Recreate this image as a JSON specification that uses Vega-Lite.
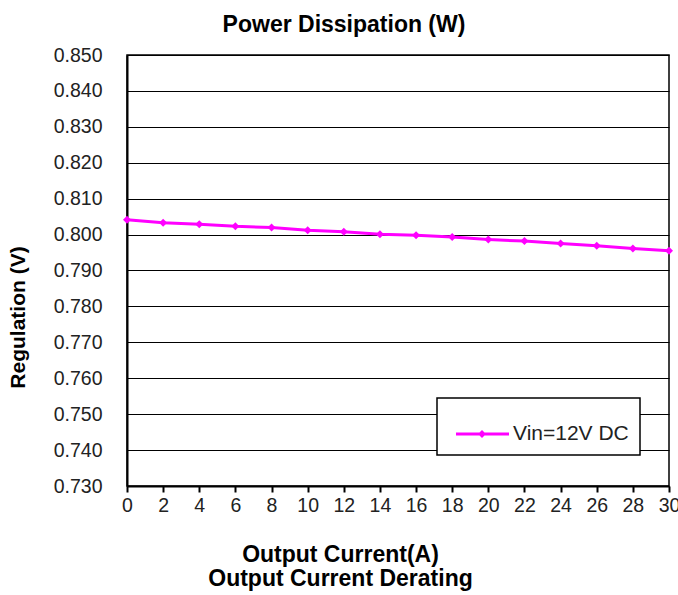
{
  "$schema": "https://vega.github.io/schema/vega-lite/v6.json",
  "width": 542,
  "height": 431,
  "autosize": "none",
  "padding": {"left": 127, "top": 55, "right": 9, "bottom": 109},
  "background": "white",
  "title": {
    "text": "Power Dissipation (W)",
    "font": "Liberation Sans",
    "fontSize": 23,
    "fontWeight": "bold",
    "color": "#000000",
    "anchor": "middle",
    "dx": -54,
    "offset": 8
  },
  "config": {
    "view": {"stroke": "#000000", "strokeWidth": 1.5},
    "font": "Liberation Sans",
    "legend": {"strokeWidth": 1.5}
  },
  "data": {
    "values": [
      {"current": 0, "regulation": 0.8041, "series": "Vin=12V DC"},
      {"current": 2, "regulation": 0.8033, "series": "Vin=12V DC"},
      {"current": 4, "regulation": 0.8029, "series": "Vin=12V DC"},
      {"current": 6, "regulation": 0.8023, "series": "Vin=12V DC"},
      {"current": 8, "regulation": 0.8020, "series": "Vin=12V DC"},
      {"current": 10, "regulation": 0.8012, "series": "Vin=12V DC"},
      {"current": 12, "regulation": 0.8008, "series": "Vin=12V DC"},
      {"current": 14, "regulation": 0.8001, "series": "Vin=12V DC"},
      {"current": 16, "regulation": 0.7998, "series": "Vin=12V DC"},
      {"current": 18, "regulation": 0.7993, "series": "Vin=12V DC"},
      {"current": 20, "regulation": 0.7986, "series": "Vin=12V DC"},
      {"current": 22, "regulation": 0.7982, "series": "Vin=12V DC"},
      {"current": 24, "regulation": 0.7975, "series": "Vin=12V DC"},
      {"current": 26, "regulation": 0.7969, "series": "Vin=12V DC"},
      {"current": 28, "regulation": 0.7961, "series": "Vin=12V DC"},
      {"current": 30, "regulation": 0.7955, "series": "Vin=12V DC"}
    ]
  },
  "encoding": {
    "x": {
      "field": "current",
      "type": "quantitative",
      "scale": {"domain": [0, 30], "nice": false, "zero": false},
      "axis": {
        "values": [0, 2, 4, 6, 8, 10, 12, 14, 16, 18, 20, 22, 24, 26, 28, 30],
        "grid": false,
        "domainColor": "#000000",
        "domainWidth": 2,
        "tickColor": "#000000",
        "tickWidth": 2,
        "tickSize": 6,
        "labelPadding": 4,
        "labelFontSize": 19.5,
        "labelColor": "#222222",
        "labelFont": "Liberation Sans",
        "labelFlush": false,
        "labelOverlap": false,
        "title": ["Output Current(A)", "Output Current Derating"],
        "titleFont": "Liberation Sans",
        "titleFontSize": 23,
        "titleFontWeight": "bold",
        "titleColor": "#000000",
        "titleAlign": "center",
        "titleBaseline": "top",
        "titleX": 213,
        "titleY": 57,
        "titleLineHeight": 24
      }
    },
    "y": {
      "field": "regulation",
      "type": "quantitative",
      "scale": {"domain": [0.73, 0.85], "nice": false, "zero": false},
      "axis": {
        "values": [0.73, 0.74, 0.75, 0.76, 0.77, 0.78, 0.79, 0.8, 0.81, 0.82, 0.83, 0.84, 0.85],
        "format": ".3f",
        "grid": true,
        "gridColor": "#000000",
        "gridWidth": 1,
        "gridOpacity": 1,
        "domainColor": "#000000",
        "domainWidth": 2,
        "ticks": false,
        "labelPadding": 25,
        "labelFontSize": 19.5,
        "labelColor": "#222222",
        "labelFont": "Liberation Sans",
        "labelFlush": false,
        "labelOverlap": false,
        "title": "Regulation (V)",
        "titleFont": "Liberation Sans",
        "titleFontSize": 21,
        "titleFontWeight": "bold",
        "titleColor": "#000000",
        "titleAngle": -90,
        "titleAlign": "center",
        "titleBaseline": "middle",
        "titleX": -109,
        "titleY": 262
      }
    },
    "color": {
      "field": "series",
      "type": "nominal",
      "scale": {"range": ["#FF00FF"]},
      "legend": {
        "title": null,
        "orient": "none",
        "legendX": 310,
        "legendY": 343,
        "padding": 11,
        "fillColor": "#FFFFFF",
        "strokeColor": "#000000",
        "symbolType": "M-0.68,-0.06H1.44V0.06H-0.68Z M0.2,0L0.36,-0.16L0.52,0L0.36,0.16Z",
        "symbolSize": 2500,
        "symbolFillColor": "#FF00FF",
        "symbolStrokeColor": "#FF00FF",
        "symbolStrokeWidth": 0,
        "labelOffset": 15,
        "labelFontSize": 21,
        "labelFont": "Liberation Sans",
        "labelColor": "#222222"
      }
    }
  },
  "layer": [
    {"mark": {"type": "line", "strokeWidth": 3}},
    {"mark": {"type": "point", "shape": "diamond", "filled": true, "size": 64, "opacity": 1}}
  ]
}
